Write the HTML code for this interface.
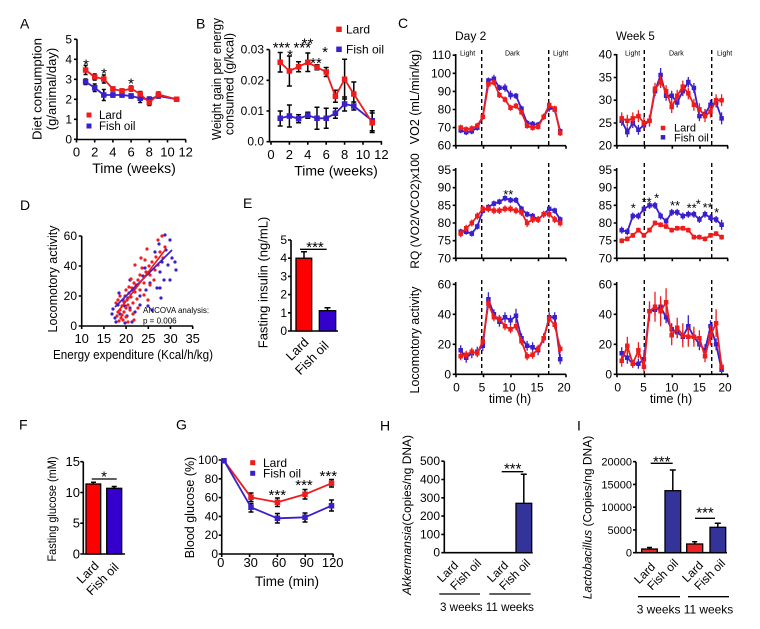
<!DOCTYPE html>
<html><head><meta charset="utf-8">
<style>
html,body{margin:0;padding:0;background:#fff;width:760px;height:629px;overflow:hidden}
svg{display:block}
text{font-family:"Liberation Sans",Arial,Helvetica,sans-serif;fill:#000}
.ax{fill:none;stroke:#000;stroke-width:1.6}
.r{fill:none;stroke:#f01c1c;stroke-width:1.8;stroke-linejoin:round}
.b{fill:none;stroke:#3a1fcc;stroke-width:1.8;stroke-linejoin:round}
.mr{fill:none;stroke:#f01c1c;stroke-linecap:square}
.mb{fill:none;stroke:#3a1fcc;stroke-linecap:square}
.eb{fill:none;stroke:#000;stroke-width:1.5}
.er{fill:none;stroke:#f01c1c;stroke-width:1.3}
.ebl{fill:none;stroke:#3a1fcc;stroke-width:1.3}
.dash{fill:none;stroke:#000;stroke-width:1.4;stroke-dasharray:4 3}
.ln{fill:none;stroke:#000;stroke-width:1.3}
</style></head><body>
<svg width="760" height="629" viewBox="0 0 760 629" xmlns="http://www.w3.org/2000/svg">
<rect width="760" height="629" fill="#fff"/>

<!-- ===== Panel A ===== -->
<text x="20" y="28.5" font-size="14">A</text>
<path class="ax" d="M77 39.3V139.5H186M74 139.3h3M74 119.3h3M74 99.3h3M74 79.3h3M74 59.3h3M74 39.3h3M76.5 139.5v3M94.7 139.5v3M112.9 139.5v3M131.1 139.5v3M149.3 139.5v3M167.5 139.5v3M185.7 139.5v3"/>
<g font-size="12" text-anchor="end"><text x="72" y="143.5">0</text><text x="72" y="123.5">1</text><text x="72" y="103.5">2</text><text x="72" y="83.5">3</text><text x="72" y="63.5">4</text><text x="72" y="43.5">5</text></g>
<g font-size="13" text-anchor="middle"><text x="76.5" y="156.5">0</text><text x="94.7" y="156.5">2</text><text x="112.9" y="156.5">4</text><text x="131.1" y="156.5">6</text><text x="149.3" y="156.5">8</text><text x="167.5" y="156.5">10</text><text x="185.7" y="156.5">12</text></g>
<text x="134" y="173" font-size="14" text-anchor="middle">Time (weeks)</text>
<text transform="translate(41.5,89) rotate(-90)" font-size="13" text-anchor="middle" textLength="102" lengthAdjust="spacingAndGlyphs">Diet consumption</text>
<text transform="translate(56,89) rotate(-90)" font-size="13" text-anchor="middle">(g/animal/day)</text>
<path class="eb" d="M85.6 65.5V74.5M83.6 65.5h4M83.6 74.5h4M94.7 74V80M92.7 74h4M92.7 80h4M103.8 75V83M101.8 75h4M101.8 83h4M112.9 87V91M110.9 87h4M110.9 91h4M122 89V93M120 89h4M120 93h4M131.1 86V91M129.1 86h4M129.1 91h4M140.2 91.5V96.5M138.2 91.5h4M138.2 96.5h4M149.3 99.5V105.5M147.3 99.5h4M147.3 105.5h4M158.4 92V97M156.4 92h4M156.4 97h4M176.6 97.5V101M174.6 97.5h4M174.6 101h4"/>
<path class="eb" d="M85.6 79V84.5M83.6 79h4M83.6 84.5h4M94.7 84V91.5M92.7 84h4M92.7 91.5h4M103.8 89.5V100.5M101.8 89.5h4M101.8 100.5h4M112.9 93V97M110.9 93h4M110.9 97h4M122 93V97M120 93h4M120 97h4M131.1 94V98M129.1 94h4M129.1 98h4M140.2 94V102.5M138.2 94h4M138.2 102.5h4M149.3 97V101.5M147.3 97h4M147.3 101.5h4M158.4 94V98M156.4 94h4M156.4 98h4"/>
<polyline class="b" points="85.6,81.7 94.7,87.7 103.8,95 112.9,95 122,95 131.1,96 140.2,98.3 149.3,99.3 158.4,96 176.6,99.3"/>
<path class="mb" stroke-width="5.5" d="M85.6 81.7h.01M94.7 87.7h.01M103.8 95h.01M112.9 95h.01M122 95h.01M131.1 96h.01M140.2 98.3h.01M149.3 99.3h.01M158.4 96h.01M176.6 99.3h.01"/>
<polyline class="r" points="85.6,70 94.7,77 103.8,79 112.9,89 122,91 131.1,88.5 140.2,94 149.3,102.5 158.4,94.5 176.6,99.3"/>
<path class="mr" stroke-width="5.5" d="M85.6 70h.01M94.7 77h.01M103.8 79h.01M112.9 89h.01M122 91h.01M131.1 88.5h.01M140.2 94h.01M149.3 102.5h.01M158.4 94.5h.01M176.6 99.3h.01"/>
<g font-size="15" text-anchor="middle"><text x="86" y="69.5">*</text><text x="104" y="78.5">*</text><text x="131" y="88.5">*</text></g>
<path class="mr" stroke-width="5" d="M89 115h.01"/><path class="mb" stroke-width="5" d="M89 126h.01"/>
<g font-size="11.5"><text x="99" y="119">Lard</text><text x="99" y="130">Fish oil</text></g>

<!-- ===== Panel B ===== -->
<text x="196" y="28.5" font-size="14">B</text>
<path class="ax" d="M269.5 49.6V141.7H382M266.5 141.7h3M266.5 111h3M266.5 80.3h3M266.5 49.6h3M271 141.7v3M289.4 141.7v3M307.8 141.7v3M326.2 141.7v3M344.6 141.7v3M363 141.7v3M381.4 141.7v3"/>
<g font-size="12" text-anchor="end"><text x="264" y="145.7">0.0</text><text x="264" y="115">0.01</text><text x="264" y="84.3">0.02</text><text x="264" y="53.6">0.03</text></g>
<g font-size="13" text-anchor="middle"><text x="271" y="159">0</text><text x="289.4" y="159">2</text><text x="307.8" y="159">4</text><text x="326.2" y="159">6</text><text x="344.6" y="159">8</text><text x="363" y="159">10</text><text x="381.4" y="159">12</text></g>
<text x="336" y="175.5" font-size="14" text-anchor="middle">Time (weeks)</text>
<text transform="translate(221,79) rotate(-90)" font-size="12.5" text-anchor="middle" textLength="122" lengthAdjust="spacingAndGlyphs">Weight gain per energy</text>
<text transform="translate(233.5,84) rotate(-90)" font-size="12.5" text-anchor="middle">consumed (g/kcal)</text>
<path class="eb" d="M280.2 52.5V72M277.7 52.5h5M277.7 72h5M289.4 56V86M286.9 56h5M286.9 86h5M298.6 61.7V71.7M296.1 61.7h5M296.1 71.7h5M307.8 53V71.5M305.3 53h5M305.3 71.5h5M317 64.8V69.8M314.5 64.8h5M314.5 69.8h5M326.2 67.5V76.5M323.7 67.5h5M323.7 76.5h5M335.4 90.3V102.3M332.9 90.3h5M332.9 102.3h5M344.6 59.3V99M342.1 59.3h5M342.1 99h5M353.8 82V106M351.3 82h5M351.3 106h5M372.2 113V132.5M369.7 113h5M369.7 132.5h5"/>
<path class="eb" d="M280.2 111V126M277.7 111h5M277.7 126h5M289.4 105V127M286.9 105h5M286.9 127h5M298.6 114.7V122.7M296.1 114.7h5M296.1 122.7h5M307.8 112.3V118.3M305.3 112.3h5M305.3 118.3h5M317 107.3V129.3M314.5 107.3h5M314.5 129.3h5M326.2 108.3V128.3M323.7 108.3h5M323.7 128.3h5M335.4 108.3V118.3M332.9 108.3h5M332.9 118.3h5M344.6 97V111M342.1 97h5M342.1 111h5M353.8 102V110M351.3 102h5M351.3 110h5M372.2 110.7V130.7M369.7 110.7h5M369.7 130.7h5"/>
<polyline class="b" points="280.2,118.3 289.4,116 298.6,118.7 307.8,115.3 317,118.3 326.2,118.3 335.4,113.3 344.6,104 353.8,106 372.2,120.7"/>
<path class="mb" stroke-width="5.5" d="M280.2 118.3h.01M289.4 116h.01M298.6 118.7h.01M307.8 115.3h.01M317 118.3h.01M326.2 118.3h.01M335.4 113.3h.01M344.6 104h.01M353.8 106h.01M372.2 120.7h.01"/>
<polyline class="r" points="280.2,62.3 289.4,71 298.6,66.7 307.8,62.3 317,67.3 326.2,72 335.4,96.3 344.6,79.3 353.8,94 372.2,122.7"/>
<path class="mr" stroke-width="5.5" d="M280.2 62.3h.01M289.4 71h.01M298.6 66.7h.01M307.8 62.3h.01M317 67.3h.01M326.2 72h.01M335.4 96.3h.01M344.6 79.3h.01M353.8 94h.01M372.2 122.7h.01"/>
<g font-size="15" text-anchor="middle"><text x="281.5" y="52.5">***</text><text x="290" y="60">*</text><text x="302.3" y="52.5">***</text><text x="307.5" y="48.5">**</text><text x="316" y="68">**</text><text x="325" y="57">*</text></g>
<path class="mr" stroke-width="5.5" d="M339 29.3h.01"/><path class="mb" stroke-width="5.5" d="M339 49.3h.01"/>
<g font-size="12"><text x="346" y="33.5">Lard</text><text x="346" y="53.5">Fish oil</text></g>

<!-- ===== Panel C ===== -->
<text x="398" y="28" font-size="14">C</text>
<text x="455" y="40" font-size="12">Day 2</text>
<text x="616" y="40" font-size="11.5">Week 5</text>
<text transform="translate(419,97) rotate(-90)" font-size="12.5" text-anchor="middle">VO2 (mL/min/kg)</text>
<text transform="translate(419,211) rotate(-90)" font-size="12" text-anchor="middle">RQ (VO2/VCO2)x100</text>
<text transform="translate(419,340) rotate(-90)" font-size="12.5" text-anchor="middle">Locomotory activity</text>

<path class="ax" d="M455.7 54V145.7H566M452.7 55.2h3M452.7 73.3h3M452.7 91.4h3M452.7 109.5h3M452.7 127.6h3M452.7 145.7h3M456 145.7v3M483.5 145.7v3M511 145.7v3M538.5 145.7v3M566 145.7v3"/>
<path class="ax" d="M616.7 54V145.7H728M613.7 54.7h3M613.7 77.5h3M613.7 100.2h3M613.7 123h3M613.7 145.7h3M617 145.7v3M644.7 145.7v3M672.3 145.7v3M700 145.7v3M727.7 145.7v3"/>
<path class="ax" d="M455.7 168V258.3H566M452.7 170h3M452.7 187.7h3M452.7 205.3h3M452.7 223h3M452.7 240.7h3M452.7 258.3h3M456 258.3v3M483.5 258.3v3M511 258.3v3M538.5 258.3v3M566 258.3v3"/>
<path class="ax" d="M616.7 168V258.3H728M613.7 170h3M613.7 187.7h3M613.7 205.3h3M613.7 223h3M613.7 240.7h3M613.7 258.3h3M617 258.3v3M644.7 258.3v3M672.3 258.3v3M700 258.3v3M727.7 258.3v3"/>
<path class="ax" d="M455.7 282V374.3H566M452.7 284.3h3M452.7 314.3h3M452.7 344.3h3M452.7 374.3h3M456 374.3v3M483.5 374.3v3M511 374.3v3M538.5 374.3v3M566 374.3v3"/>
<path class="ax" d="M616.7 282V374.3H728M613.7 284.3h3M613.7 314.3h3M613.7 344.3h3M613.7 374.3h3M617 374.3v3M644.7 374.3v3M672.3 374.3v3M700 374.3v3M727.7 374.3v3"/>
<g font-size="12" text-anchor="end">
<text x="451" y="59.2">110</text><text x="451" y="77.3">100</text><text x="451" y="95.4">90</text><text x="451" y="113.5">80</text><text x="451" y="131.6">70</text><text x="451" y="149.7">60</text>
<text x="612" y="58.7">40</text><text x="612" y="81.5">35</text><text x="612" y="104.2">30</text><text x="612" y="127">25</text><text x="612" y="149.7">20</text>
<text x="451" y="174">95</text><text x="451" y="191.7">90</text><text x="451" y="209.3">85</text><text x="451" y="227">80</text><text x="451" y="244.7">75</text><text x="451" y="262.3">70</text>
<text x="612" y="174">95</text><text x="612" y="191.7">90</text><text x="612" y="209.3">85</text><text x="612" y="227">80</text><text x="612" y="244.7">75</text><text x="612" y="262.3">70</text>
<text x="451" y="288.3">60</text><text x="451" y="318.3">40</text><text x="451" y="348.3">20</text><text x="451" y="378.3">0</text>
<text x="612" y="288.3">60</text><text x="612" y="318.3">40</text><text x="612" y="348.3">20</text><text x="612" y="378.3">0</text>
</g>
<g font-size="12" text-anchor="middle">
<text x="456.5" y="391.5">0</text><text x="482" y="391.5">5</text><text x="509" y="391.5">10</text><text x="537" y="391.5">15</text><text x="564" y="391.5">20</text>
<text x="617.7" y="391.5">0</text><text x="643.5" y="391.5">5</text><text x="671.7" y="391.5">10</text><text x="699.3" y="391.5">15</text><text x="725" y="391.5">20</text>
</g>
<g font-size="12.5" text-anchor="middle"><text x="510" y="403">time (h)</text><text x="671" y="403">time (h)</text></g>
<path class="dash" d="M481.7 50V145.7M548.7 50V145.7M644.3 50V145.7M711.7 50V145.7M481.7 163V258.3M548.7 163V258.3M644.3 163V258.3M711.7 163V258.3M481.7 280V374.3M548.7 280V374.3M644.3 280V374.3M711.7 280V374.3"/>
<g font-size="7"><text x="460" y="55.5">Light</text><text x="505" y="55.5">Dark</text><text x="553" y="55.5">Light</text><text x="625" y="55.5">Light</text><text x="669" y="55.5">Dark</text><text x="717" y="55.5">Light</text></g>

<!-- C top-left -->
<path class="ebl" d="M460.7 127.3V133.3M466.2 129.1V135.1M471.8 128.2V134.2M477.3 124.6V130.6M482.8 113.7V119.7M488.4 77.5V83.5M493.9 74.7V82.7M499.4 84.8V90.8M505 83.8V91.8M510.5 90.5V99.5M516 92.9V98.9M521.5 105.6V111.6M527.1 120.1V126.1M532.6 121V127M538.1 121.9V127.9M543.7 113.7V119.7M549.2 103.7V111.7M554.7 106.5V112.5M560.2 128.2V134.2"/>
<polyline class="b" points="460.7,130.3 466.2,132.1 471.8,131.2 477.3,127.6 482.8,116.7 488.4,80.5 493.9,78.7 499.4,87.8 505,87.8 510.5,95 516,95.9 521.5,108.6 527.1,123.1 532.6,124 538.1,124.9 543.7,116.7 549.2,107.7 554.7,109.5 560.2,131.2"/>
<path class="mb" stroke-width="4.5" d="M460.7 130.3h.01M466.2 132.1h.01M471.8 131.2h.01M477.3 127.6h.01M482.8 116.7h.01M488.4 80.5h.01M493.9 78.7h.01M499.4 87.8h.01M505 87.8h.01M510.5 95h.01M516 95.9h.01M521.5 108.6h.01M527.1 123.1h.01M532.6 124h.01M538.1 124.9h.01M543.7 116.7h.01M549.2 107.7h.01M554.7 109.5h.01M560.2 131.2h.01"/>
<path class="er" d="M460.7 124.6V130.6M466.2 126.4V132.4M471.8 125.5V131.5M477.3 122.8V128.8M482.8 113.7V119.7M488.4 81.2V87.2M493.9 79.4V85.4M499.4 92V98M505 96.5V102.5M510.5 104.7V110.7M516 102.9V108.9M521.5 109.2V115.2M527.1 122.8V128.8M532.6 124.6V130.6M538.1 123.7V129.7M543.7 113.7V119.7M549.2 101.5V108.5M554.7 105.6V111.6M560.2 130V136"/>
<polyline class="r" points="460.7,127.6 466.2,129.4 471.8,128.5 477.3,125.8 482.8,116.7 488.4,84.2 493.9,82.4 499.4,95 505,99.5 510.5,107.7 516,105.9 521.5,112.2 527.1,125.8 532.6,127.6 538.1,126.7 543.7,116.7 549.2,105 554.7,108.6 560.2,133"/>
<path class="mr" stroke-width="4.5" d="M460.7 127.6h.01M466.2 129.4h.01M471.8 128.5h.01M477.3 125.8h.01M482.8 116.7h.01M488.4 84.2h.01M493.9 82.4h.01M499.4 95h.01M505 99.5h.01M510.5 107.7h.01M516 105.9h.01M521.5 112.2h.01M527.1 125.8h.01M532.6 127.6h.01M538.1 126.7h.01M543.7 116.7h.01M549.2 105h.01M554.7 108.6h.01M560.2 133h.01"/>

<!-- C top-right -->
<path class="ebl" d="M621.7 115.7V125.7M627.3 127.1V137.1M632.8 118V128M638.4 124.8V134.8M643.9 120.2V130.2M649.5 115.7V125.7M655 86.1V96.1M660.6 68V82M666.1 90.7V100.7M671.7 90.7V100.7M677.2 97.5V107.5M682.8 86.1V96.1M688.3 77V87M693.9 83V93M699.4 111.1V121.1M705 108.9V118.9M710.5 99.7V109.7M716.1 97.5V107.5M721.6 112.4V124.4"/>
<polyline class="b" points="621.7,120.7 627.3,132.1 632.8,123 638.4,129.8 643.9,125.2 649.5,120.7 655,91.1 660.6,75 666.1,95.7 671.7,95.7 677.2,102.5 682.8,91.1 688.3,82 693.9,88 699.4,116.1 705,113.9 710.5,104.7 716.1,102.5 721.6,118.4"/>
<path class="mb" stroke-width="4.5" d="M621.7 120.7h.01M627.3 132.1h.01M632.8 123h.01M638.4 129.8h.01M643.9 125.2h.01M649.5 120.7h.01M655 91.1h.01M660.6 75h.01M666.1 95.7h.01M671.7 95.7h.01M677.2 102.5h.01M682.8 91.1h.01M688.3 82h.01M693.9 88h.01M699.4 116.1h.01M705 113.9h.01M710.5 104.7h.01M716.1 102.5h.01M721.6 118.4h.01"/>
<path class="er" d="M621.7 112.4V124.4M627.3 114.7V126.7M632.8 112.4V124.4M638.4 110.1V122.1M643.9 117V129M649.5 114.7V126.7M655 82.8V94.8M660.6 76V88M666.1 85.1V97.1M671.7 101V113M677.2 89.7V101.7M682.8 80.6V92.6M688.3 87.4V99.4M693.9 98.7V110.7M699.4 103.3V115.3M705 110.1V122.1M710.5 105.6V117.6M716.1 94.2V106.2M721.6 94.2V106.2"/>
<polyline class="r" points="621.7,118.4 627.3,120.7 632.8,118.4 638.4,116.1 643.9,123 649.5,120.7 655,88.8 660.6,82 666.1,91.1 671.7,107 677.2,95.7 682.8,86.6 688.3,93.4 693.9,104.7 699.4,109.3 705,116.1 710.5,111.6 716.1,100.2 721.6,100.2"/>
<path class="mr" stroke-width="4.5" d="M621.7 118.4h.01M627.3 120.7h.01M632.8 118.4h.01M638.4 116.1h.01M643.9 123h.01M649.5 120.7h.01M655 88.8h.01M660.6 82h.01M666.1 91.1h.01M671.7 107h.01M677.2 95.7h.01M682.8 86.6h.01M688.3 93.4h.01M693.9 104.7h.01M699.4 109.3h.01M705 116.1h.01M710.5 111.6h.01M716.1 100.2h.01M721.6 100.2h.01"/>
<path class="mr" stroke-width="4.5" d="M663 128h.01"/><path class="mb" stroke-width="4.5" d="M663 137.3h.01"/>
<g font-size="11"><text x="674" y="131.7">Lard</text><text x="674" y="141.3">Fish oil</text></g>

<!-- C middle-left -->
<path class="ebl" d="M460.7 228.8V234.8M466.2 228.8V234.8M471.8 230.6V236.6M477.3 223.5V229.5M482.8 207.6V213.6M488.4 204.1V210.1M493.9 200.6V206.6M499.4 198.8V204.8M505 195.3V201.3M510.5 197.1V203.1M516 197.1V203.1M521.5 205.9V211.9M527.1 211.2V217.2M532.6 213V219M538.1 216.5V222.5M543.7 211.2V217.2M549.2 205.9V211.9M554.7 207.6V213.6M560.2 216.5V222.5"/>
<polyline class="b" points="460.7,231.8 466.2,231.8 471.8,233.6 477.3,226.5 482.8,210.6 488.4,207.1 493.9,203.6 499.4,201.8 505,198.3 510.5,200.1 516,200.1 521.5,208.9 527.1,214.2 532.6,216 538.1,219.5 543.7,214.2 549.2,208.9 554.7,210.6 560.2,219.5"/>
<path class="mb" stroke-width="4.5" d="M460.7 231.8h.01M466.2 231.8h.01M471.8 233.6h.01M477.3 226.5h.01M482.8 210.6h.01M488.4 207.1h.01M493.9 203.6h.01M499.4 201.8h.01M505 198.3h.01M510.5 200.1h.01M516 200.1h.01M521.5 208.9h.01M527.1 214.2h.01M532.6 216h.01M538.1 219.5h.01M543.7 214.2h.01M549.2 208.9h.01M554.7 210.6h.01M560.2 219.5h.01"/>
<path class="er" d="M460.7 230.1V237.1M466.2 224.8V231.8M471.8 219.5V226.5M477.3 212.5V219.5M482.8 205.4V212.4M488.4 205.4V212.4M493.9 207.1V214.1M499.4 207.1V214.1M505 205.4V212.4M510.5 205.4V212.4M516 207.1V214.1M521.5 208.9V215.9M527.1 219V227M532.6 216V223M538.1 216V223M543.7 210.7V217.7M549.2 210.7V217.7M554.7 216V223M560.2 219.5V226.5"/>
<polyline class="r" points="460.7,233.6 466.2,228.3 471.8,223 477.3,216 482.8,208.9 488.4,208.9 493.9,210.6 499.4,210.6 505,208.9 510.5,208.9 516,210.6 521.5,212.4 527.1,223 532.6,219.5 538.1,219.5 543.7,214.2 549.2,214.2 554.7,219.5 560.2,223"/>
<path class="mr" stroke-width="4.5" d="M460.7 233.6h.01M466.2 228.3h.01M471.8 223h.01M477.3 216h.01M482.8 208.9h.01M488.4 208.9h.01M493.9 210.6h.01M499.4 210.6h.01M505 208.9h.01M510.5 208.9h.01M516 210.6h.01M521.5 212.4h.01M527.1 223h.01M532.6 219.5h.01M538.1 219.5h.01M543.7 214.2h.01M549.2 214.2h.01M554.7 219.5h.01M560.2 223h.01"/>
<text x="508.3" y="199" font-size="13" text-anchor="middle">**</text>

<!-- C middle-right -->
<path class="ebl" d="M621.7 226.6V233.6M627.3 228.3V235.3M632.8 212.5V219.5M638.4 212.5V219.5M643.9 205.4V212.4M649.5 201.9V208.9M655 201.9V208.9M660.6 212.5V219.5M666.1 217.7V224.7M671.7 208.9V215.9M677.2 208.9V215.9M682.8 212.5V219.5M688.3 210.7V217.7M693.9 210.7V217.7M699.4 216V223M705 210.7V217.7M710.5 214.2V221.2M716.1 216V223M721.6 219.8V229.8"/>
<polyline class="b" points="621.7,230.1 627.3,231.8 632.8,216 638.4,216 643.9,208.9 649.5,205.4 655,205.4 660.6,216 666.1,221.2 671.7,212.4 677.2,212.4 682.8,216 688.3,214.2 693.9,214.2 699.4,219.5 705,214.2 710.5,217.7 716.1,219.5 721.6,224.8"/>
<path class="mb" stroke-width="4.5" d="M621.7 230.1h.01M627.3 231.8h.01M632.8 216h.01M638.4 216h.01M643.9 208.9h.01M649.5 205.4h.01M655 205.4h.01M660.6 216h.01M666.1 221.2h.01M671.7 212.4h.01M677.2 212.4h.01M682.8 216h.01M688.3 214.2h.01M693.9 214.2h.01M699.4 219.5h.01M705 214.2h.01M710.5 217.7h.01M716.1 219.5h.01M721.6 224.8h.01"/>
<path class="er" d="M621.7 238.2V243.2M627.3 236.4V241.4M632.8 232.9V237.9M638.4 227.6V232.6M643.9 232.9V237.9M649.5 227.6V232.6M655 220.5V225.5M660.6 222.3V227.3M666.1 224V229M671.7 227.6V232.6M677.2 225.8V230.8M682.8 225.8V230.8M688.3 227.6V232.6M693.9 234.6V239.6M699.4 234.6V239.6M705 236.4V241.4M710.5 232.9V237.9M716.1 231.1V236.1M721.6 234.6V239.6"/>
<polyline class="r" points="621.7,240.7 627.3,238.9 632.8,235.4 638.4,230.1 643.9,235.4 649.5,230.1 655,223 660.6,224.8 666.1,226.5 671.7,230.1 677.2,228.3 682.8,228.3 688.3,230.1 693.9,237.1 699.4,237.1 705,238.9 710.5,235.4 716.1,233.6 721.6,237.1"/>
<path class="mr" stroke-width="4.5" d="M621.7 240.7h.01M627.3 238.9h.01M632.8 235.4h.01M638.4 230.1h.01M643.9 235.4h.01M649.5 230.1h.01M655 223h.01M660.6 224.8h.01M666.1 226.5h.01M671.7 230.1h.01M677.2 228.3h.01M682.8 228.3h.01M688.3 230.1h.01M693.9 237.1h.01M699.4 237.1h.01M705 238.9h.01M710.5 235.4h.01M716.1 233.6h.01M721.6 237.1h.01"/>
<g font-size="13" text-anchor="middle"><text x="633.3" y="212.5">*</text><text x="646.7" y="206.5">**</text><text x="656.7" y="202.5">*</text><text x="675" y="209.8">**</text><text x="691.7" y="212.5">**</text><text x="698.3" y="208.5">*</text><text x="707.7" y="211.8">**</text><text x="716.7" y="216.8">*</text></g>

<!-- C bottom-left -->
<path class="ebl" d="M460.7 345.3V355.3M466.2 352.8V362.8M471.8 348.3V358.3M477.3 346.8V356.8M482.8 340.8V350.8M488.4 292.3V306.3M493.9 309.3V319.3M499.4 316.8V326.8M505 312.3V322.3M510.5 315.3V325.3M516 308.8V322.8M521.5 333.3V343.3M527.1 340.8V350.8M532.6 342.3V352.3M538.1 345.3V355.3M543.7 333.3V343.3M549.2 312.3V322.3M554.7 312.3V322.3M560.2 354.3V364.3"/>
<polyline class="b" points="460.7,350.3 466.2,357.8 471.8,353.3 477.3,351.8 482.8,345.8 488.4,299.3 493.9,314.3 499.4,321.8 505,317.3 510.5,320.3 516,315.8 521.5,338.3 527.1,345.8 532.6,347.3 538.1,350.3 543.7,338.3 549.2,317.3 554.7,317.3 560.2,359.3"/>
<path class="mb" stroke-width="4.5" d="M460.7 350.3h.01M466.2 357.8h.01M471.8 353.3h.01M477.3 351.8h.01M482.8 345.8h.01M488.4 299.3h.01M493.9 314.3h.01M499.4 321.8h.01M505 317.3h.01M510.5 320.3h.01M516 315.8h.01M521.5 338.3h.01M527.1 345.8h.01M532.6 347.3h.01M538.1 350.3h.01M543.7 338.3h.01M549.2 317.3h.01M554.7 317.3h.01M560.2 359.3h.01"/>
<path class="er" d="M460.7 352.3V360.3M466.2 350.8V358.8M471.8 347.8V355.8M477.3 349.3V357.3M482.8 337.3V345.3M488.4 299.8V307.8M493.9 313.3V321.3M499.4 314.8V322.8M505 322.3V330.3M510.5 325.3V333.3M516 322.3V330.3M521.5 337.3V345.3M527.1 352.3V360.3M532.6 350.8V358.8M538.1 344.8V352.8M543.7 334.3V342.3M549.2 314.8V322.8M554.7 320.8V328.8M560.2 344.8V352.8"/>
<polyline class="r" points="460.7,356.3 466.2,354.8 471.8,351.8 477.3,353.3 482.8,341.3 488.4,303.8 493.9,317.3 499.4,318.8 505,326.3 510.5,329.3 516,326.3 521.5,341.3 527.1,356.3 532.6,354.8 538.1,348.8 543.7,338.3 549.2,318.8 554.7,324.8 560.2,348.8"/>
<path class="mr" stroke-width="4.5" d="M460.7 356.3h.01M466.2 354.8h.01M471.8 351.8h.01M477.3 353.3h.01M482.8 341.3h.01M488.4 303.8h.01M493.9 317.3h.01M499.4 318.8h.01M505 326.3h.01M510.5 329.3h.01M516 326.3h.01M521.5 341.3h.01M527.1 356.3h.01M532.6 354.8h.01M538.1 348.8h.01M543.7 338.3h.01M549.2 318.8h.01M554.7 324.8h.01M560.2 348.8h.01"/>

<!-- C bottom-right -->
<path class="ebl" d="M621.7 347.3V359.3M627.3 351.8V363.8M632.8 359.8V367.8M638.4 358.8V368.8M643.9 353.3V365.3M649.5 305.3V317.3M655 303.8V315.8M660.6 300.8V312.8M666.1 311.3V323.3M671.7 323.3V335.3M677.2 326.3V338.3M682.8 330.8V342.8M688.3 315.3V337.3M693.9 330.8V342.8M699.4 338.3V350.3M705 344.3V356.3M710.5 320.3V332.3M716.1 338.3V350.3M721.6 365.8V373.8"/>
<polyline class="b" points="621.7,353.3 627.3,357.8 632.8,363.8 638.4,363.8 643.9,359.3 649.5,311.3 655,309.8 660.6,306.8 666.1,317.3 671.7,329.3 677.2,332.3 682.8,336.8 688.3,326.3 693.9,336.8 699.4,344.3 705,350.3 710.5,326.3 716.1,344.3 721.6,369.8"/>
<path class="mb" stroke-width="4.5" d="M621.7 353.3h.01M627.3 357.8h.01M632.8 363.8h.01M638.4 363.8h.01M643.9 359.3h.01M649.5 311.3h.01M655 309.8h.01M660.6 306.8h.01M666.1 317.3h.01M671.7 329.3h.01M677.2 332.3h.01M682.8 336.8h.01M688.3 326.3h.01M693.9 336.8h.01M699.4 344.3h.01M705 350.3h.01M710.5 326.3h.01M716.1 344.3h.01M721.6 369.8h.01"/>
<path class="er" d="M621.7 354.8V366.8M627.3 336.8V354.8M632.8 359.8V367.8M638.4 342.3V358.3M643.9 360.8V372.8M649.5 301.3V321.3M655 291.8V321.8M660.6 296.3V326.3M666.1 288.3V316.3M671.7 325.3V345.3M677.2 317.8V337.8M682.8 323.3V347.3M688.3 326.8V346.8M693.9 326.8V346.8M699.4 330.3V346.3M705 350.3V362.3M710.5 325.3V345.3M716.1 309.3V337.3M721.6 361.8V371.8"/>
<polyline class="r" points="621.7,360.8 627.3,345.8 632.8,363.8 638.4,350.3 643.9,366.8 649.5,311.3 655,306.8 660.6,311.3 666.1,302.3 671.7,335.3 677.2,327.8 682.8,335.3 688.3,336.8 693.9,336.8 699.4,338.3 705,356.3 710.5,335.3 716.1,323.3 721.6,366.8"/>
<path class="mr" stroke-width="4.5" d="M621.7 360.8h.01M627.3 345.8h.01M632.8 363.8h.01M638.4 350.3h.01M643.9 366.8h.01M649.5 311.3h.01M655 306.8h.01M660.6 311.3h.01M666.1 302.3h.01M671.7 335.3h.01M677.2 327.8h.01M682.8 335.3h.01M688.3 336.8h.01M693.9 336.8h.01M699.4 338.3h.01M705 356.3h.01M710.5 335.3h.01M716.1 323.3h.01M721.6 366.8h.01"/>

<!-- ===== Panel D ===== -->
<text x="20" y="210" font-size="14">D</text>
<path class="ax" d="M81.7 236V326H193M78.7 236h3M78.7 266h3M78.7 296h3M78.7 326h3M81.7 326v3M103.9 326v3M126.1 326v3M148.3 326v3M170.5 326v3M192.7 326v3"/>
<g font-size="12" text-anchor="end"><text x="77" y="240">60</text><text x="77" y="270">40</text><text x="77" y="300">20</text><text x="77" y="330">0</text></g>
<g font-size="13" text-anchor="middle"><text x="81.7" y="343">10</text><text x="103.9" y="343">15</text><text x="126.1" y="343">20</text><text x="148.3" y="343">25</text><text x="170.5" y="343">30</text><text x="192.7" y="343">35</text></g>
<text x="133" y="359" font-size="12.5" text-anchor="middle" textLength="160" lengthAdjust="spacingAndGlyphs">Energy expenditure (Kcal/h/kg)</text>
<text transform="translate(57,279) rotate(-90)" font-size="12.5" text-anchor="middle">Locomotory activity</text>
<path stroke="#3a1fcc" stroke-width="3.2" stroke-linecap="round" fill="none" d="M165 235h.01M159 244h.01M170 240h.01M172 258h.01M168 265h.01M175 262h.01M176 270h.01M160 272h.01M164 280h.01M150 283h.01M157 288h.01M143 276h.01M137 285h.01M170 280h.01M146 290h.01M140 296h.01M133 290h.01M128 298h.01M123 300h.01M118 305h.01M113 309h.01M125 306h.01M130 308h.01M120 314h.01M127 316h.01M115 318h.01M135 312h.01M140 305h.01M152 310h.01M161 298h.01M145 268h.01M130 280h.01M119 293h.01M112 314h.01M116 322h.01M125 323h.01M132 322h.01M148 306h.01M162 262h.01M155 252h.01M160 288h.01M166 250h.01"/>
<path stroke="#f01c1c" stroke-width="3.2" stroke-linecap="round" fill="none" d="M162 236h.01M158 240h.01M165 247h.01M160 252h.01M156 257h.01M152 262h.01M149 266h.01M163 258h.01M155 270h.01M146 272h.01M142 268h.01M150 275h.01M140 275h.01M138 280h.01M144 283h.01M136 285h.01M132 288h.01M140 290h.01M135 292h.01M129 293h.01M131 297h.01M137 299h.01M127 300h.01M124 302h.01M133 303h.01M128 305h.01M122 306h.01M126 308h.01M120 310h.01M124 312h.01M118 312h.01M122 315h.01M130 310h.01M117 316h.01M121 318h.01M126 317h.01M133 314h.01M119 321h.01M123 320h.01M128 322h.01M134 320h.01M116 303h.01M144 295h.01M150 285h.01M148 300h.01M138 308h.01M141 258h.01M147 249h.01M135 265h.01M154 280h.01M126 290h.01M118 300h.01M131 279h.01M158 265h.01M145 260h.01M120 296h.01M125 296h.01M129 287h.01M134 283h.01"/>
<path stroke="#3a1fcc" stroke-width="1.7" d="M115 307L172 250"/>
<path stroke="#f01c1c" stroke-width="1.7" d="M117 313L165 250"/>
<g font-size="8"><text x="143" y="313">ANCOVA analysis:</text><text x="143" y="323.5">p = 0.006</text></g>

<!-- ===== Panel E ===== -->
<text x="243" y="208" font-size="14">E</text>
<path class="ax" d="M291 240V331H338M288 240h3M288 258.2h3M288 276.4h3M288 294.6h3M288 312.8h3M288 331h3"/>
<g font-size="12" text-anchor="end"><text x="287" y="244">5</text><text x="287" y="262.2">4</text><text x="287" y="280.4">3</text><text x="287" y="298.6">2</text><text x="287" y="316.8">1</text><text x="287" y="335">0</text></g>
<text transform="translate(267.5,282.5) rotate(-90)" font-size="13" text-anchor="middle">Fasting insulin (ng/mL)</text>
<path class="eb" d="M304 258V251.7M301 251.7h6M327.5 311V307.7M324.5 307.7h6"/>
<rect x="296" y="258.2" width="15.7" height="72.8" fill="#ff0000" stroke="#000" stroke-width="1.3"/>
<rect x="319.3" y="310.7" width="16.4" height="20.3" fill="#3300cc" stroke="#000" stroke-width="1.3"/>
<path class="ln" d="M300 249.3H326.7"/>
<text x="315" y="252" font-size="15" text-anchor="middle">***</text>
<g font-size="13" text-anchor="end"><text transform="translate(309.5,343) rotate(-45)">Lard</text><text transform="translate(329.5,346.5) rotate(-45)">Fish oil</text></g>

<!-- ===== Panel F ===== -->
<text x="19" y="429.5" font-size="14">F</text>
<path class="ax" d="M83.3 461.7V554H125M80.3 461.7h3M80.3 492.5h3M80.3 523.2h3M80.3 554h3"/>
<g font-size="13" text-anchor="end"><text x="80" y="466">15</text><text x="80" y="496.8">10</text><text x="80" y="527.5">5</text><text x="80" y="558.3">0</text></g>
<text transform="translate(56,509) rotate(-90)" font-size="12" text-anchor="middle" textLength="105" lengthAdjust="spacingAndGlyphs">Fasting glucose (mM)</text>
<path class="eb" d="M93.3 484V482.3M91 482.3h5M114.2 488.3V486.5M111.7 486.5h5"/>
<rect x="86" y="484" width="14.7" height="70" fill="#ff0000" stroke="#000" stroke-width="1.3"/>
<rect x="106.7" y="488.3" width="15" height="65.7" fill="#3300cc" stroke="#000" stroke-width="1.3"/>
<path class="ln" d="M91.7 479H116.7"/>
<text x="104" y="481.5" font-size="15" text-anchor="middle">*</text>
<g font-size="12.5" text-anchor="end"><text transform="translate(99.5,566.5) rotate(-45)">Lard</text><text transform="translate(119.5,568) rotate(-45)">Fish oil</text></g>

<!-- ===== Panel G ===== -->
<text x="176" y="429.5" font-size="14">G</text>
<path class="ax" d="M221.7 460V554H333.5M218.7 460h3M218.7 478.8h3M218.7 497.6h3M218.7 516.4h3M218.7 535.2h3M218.7 554h3M221.7 554v3M249.6 554v3M277.4 554v3M305.3 554v3M333.1 554v3"/>
<g font-size="12" text-anchor="end"><text x="218" y="464">100</text><text x="218" y="482.8">80</text><text x="218" y="501.6">60</text><text x="218" y="520.4">40</text><text x="218" y="539.2">20</text><text x="218" y="558">0</text></g>
<g font-size="13" text-anchor="middle"><text x="220.7" y="567">0</text><text x="250.7" y="567">30</text><text x="279" y="567">60</text><text x="306.7" y="567">90</text><text x="332.7" y="567">120</text></g>
<text x="287" y="586" font-size="13.5" text-anchor="middle">Time (min)</text>
<text transform="translate(194,507.5) rotate(-90)" font-size="12.5" text-anchor="middle">Blood glucose (%)</text>
<path class="eb" d="M251 493V501.5M248.5 493h5M248.5 501.5h5M277.4 498V506.5M274.9 498h5M274.9 506.5h5M305 489.5V499M302.5 489.5h5M302.5 499h5M331.5 479.5V487M329 479.5h5M329 487h5M251 503.5V512M248.5 503.5h5M248.5 512h5M277.4 513.5V523M274.9 513.5h5M274.9 523h5M305 513V522M302.5 513h5M302.5 522h5M331.5 500V511M329 500h5M329 511h5"/>
<polyline class="r" points="224,460.7 251,497.3 277.4,502.3 305,494.3 331.5,483.3"/>
<polyline class="b" points="224,460.7 251,507.3 277.4,518.3 305,517.3 331.5,505.7"/>
<path class="mr" stroke-width="5.5" d="M251 497.3h.01M277.4 502.3h.01M305 494.3h.01M331.5 483.3h.01"/>
<path class="mb" stroke-width="5.5" d="M251 507.3h.01M277.4 518.3h.01M305 517.3h.01M331.5 505.7h.01M224 460.7h.01"/>
<path class="mr" stroke-width="5" d="M252.7 462.7h.01"/><path class="mb" stroke-width="5" d="M252.7 473.3h.01"/>
<g font-size="12"><text x="263" y="466.8">Lard</text><text x="263" y="477.4">Fish oil</text></g>
<g font-size="15" text-anchor="middle"><text x="277.3" y="500">***</text><text x="304" y="490">***</text><text x="328.3" y="481">***</text></g>

<!-- ===== Panel H ===== -->
<text x="380" y="430.7" font-size="14">H</text>
<path class="ax" d="M444.3 461.2V552.7H532.7M441.3 461.2h3M441.3 479.5h3M441.3 497.8h3M441.3 516.1h3M441.3 534.4h3M441.3 552.7h3"/>
<g font-size="12" text-anchor="end"><text x="440" y="465.2">500</text><text x="440" y="483.5">400</text><text x="440" y="501.8">300</text><text x="440" y="520.1">200</text><text x="440" y="538.4">100</text><text x="440" y="556.7">0</text></g>
<text transform="translate(411,515) rotate(-90)" font-size="12" text-anchor="middle"><tspan font-style="italic">Akkermansia</tspan>(Copies/ng DNA)</text>
<path class="eb" d="M523.8 503.3V474.3M520.8 474.3h6"/>
<rect x="516" y="503.3" width="15.7" height="49.4" fill="#333399" stroke="#000" stroke-width="1.3"/>
<path class="ln" d="M501.7 471.7H523.3"/>
<text x="512.7" y="473.5" font-size="15" text-anchor="middle">***</text>
<g font-size="12" text-anchor="end"><text transform="translate(459,566) rotate(-45)">Lard</text><text transform="translate(482,564) rotate(-45)">Fish oil</text><text transform="translate(509,566) rotate(-45)">Lard</text><text transform="translate(531,564) rotate(-45)">Fish oil</text></g>
<path class="ln" d="M439.3 594H480M489.3 594H530.7"/>
<text x="440" y="611" font-size="12" textLength="94" lengthAdjust="spacingAndGlyphs">3 weeks 11 weeks</text>

<!-- ===== Panel I ===== -->
<text x="577" y="430.7" font-size="14">I</text>
<path class="ax" d="M636 461.7V552.7H727M633 461.7h3M633 484.4h3M633 507.2h3M633 529.9h3M633 552.7h3"/>
<g font-size="11" text-anchor="end"><text x="632" y="465.7">20000</text><text x="632" y="488.4">15000</text><text x="632" y="511.2">10000</text><text x="632" y="533.9">5000</text><text x="632" y="556.7">0</text></g>
<text transform="translate(591.5,517.5) rotate(-90)" font-size="12" text-anchor="middle"><tspan font-style="italic">Lactobacillus</tspan> (Copies/ng DNA)</text>
<path class="eb" d="M649.5 549V547.5M647 547.5h5M672.8 490.7V470M669.8 470h6M694.7 544V541.7M692.2 541.7h5M717.8 527.3V523.3M714.8 523.3h6"/>
<rect x="641.7" y="549" width="15.6" height="3.7" fill="#ee2222" stroke="#000" stroke-width="1.3"/>
<rect x="665" y="490.7" width="15.7" height="62" fill="#333399" stroke="#000" stroke-width="1.3"/>
<rect x="686.7" y="544" width="16" height="8.7" fill="#ee2222" stroke="#000" stroke-width="1.3"/>
<rect x="710" y="527.3" width="15.7" height="25.4" fill="#333399" stroke="#000" stroke-width="1.3"/>
<path class="ln" d="M650.7 463.3H672.7M695 518.3H715"/>
<g font-size="15" text-anchor="middle"><text x="661.7" y="466.5">***</text><text x="705" y="517.5">***</text></g>
<g font-size="12" text-anchor="end"><text transform="translate(656,567.5) rotate(-45)">Lard</text><text transform="translate(679,564) rotate(-45)">Fish oil</text><text transform="translate(704,566) rotate(-45)">Lard</text><text transform="translate(726,564) rotate(-45)">Fish oil</text></g>
<path class="ln" d="M638 596.7H680M688 596.7H729"/>
<text x="636.7" y="613.5" font-size="12" textLength="96.5" lengthAdjust="spacingAndGlyphs">3 weeks 11 weeks</text>
</svg>
</body></html>
